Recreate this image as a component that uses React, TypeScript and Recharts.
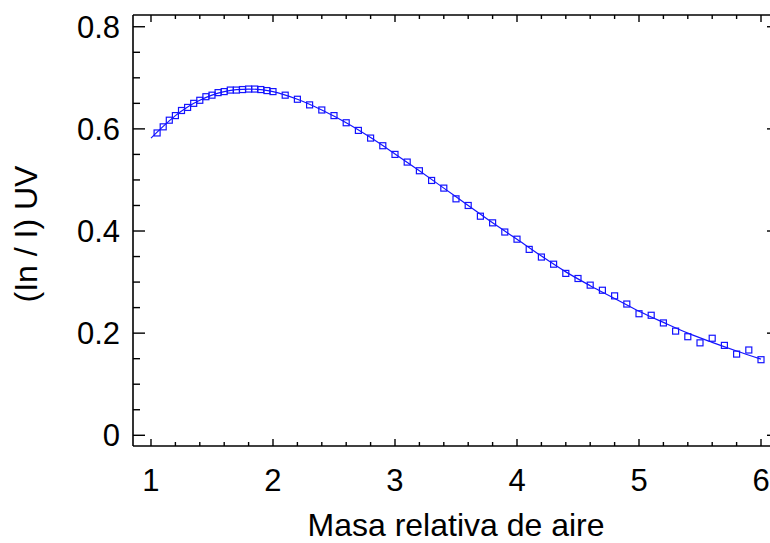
import React from 'react';
import { ComposedChart, XAxis, YAxis, Scatter, Line, Label } from 'recharts';

// Measured air mass values and the UV ratio (In / I) at each one
const airMass = [
  1.05, 1.1, 1.15, 1.2, 1.25, 1.3, 1.35, 1.4, 1.45, 1.5,
  1.55, 1.6, 1.65, 1.7, 1.75, 1.8, 1.85, 1.9, 1.95, 2.0,
  2.1, 2.2, 2.3, 2.4, 2.5, 2.6, 2.7, 2.8, 2.9, 3.0,
  3.1, 3.2, 3.3, 3.4, 3.5, 3.6, 3.7, 3.8, 3.9, 4.0,
  4.1, 4.2, 4.3, 4.4, 4.5, 4.6, 4.7, 4.8, 4.9, 5.0,
  5.1, 5.2, 5.3, 5.4, 5.5, 5.6, 5.7, 5.8, 5.9, 6.0,
];
const uvRatio = [
  0.592, 0.604, 0.617, 0.626, 0.636, 0.642, 0.65, 0.656, 0.663, 0.666,
  0.671, 0.673, 0.676, 0.676, 0.677, 0.678, 0.678, 0.677, 0.675, 0.673,
  0.666, 0.658, 0.647, 0.637, 0.626, 0.612, 0.597, 0.582, 0.567, 0.55,
  0.535, 0.518, 0.499, 0.484, 0.463, 0.45, 0.429, 0.416, 0.398, 0.384,
  0.364, 0.349, 0.335, 0.317, 0.307, 0.294, 0.284, 0.273, 0.257, 0.238,
  0.235, 0.22, 0.204, 0.193, 0.181, 0.19, 0.176, 0.159, 0.167, 0.148,
];

// Fitted curve through the measurements
const fitMass = [
  1.0, 1.1, 1.2, 1.3, 1.4, 1.5, 1.6, 1.7, 1.8, 1.9, 2.0,
  2.2, 2.4, 2.6, 2.8, 3.0, 3.2, 3.4, 3.6, 3.8, 4.0,
  4.2, 4.4, 4.6, 4.8, 5.0, 5.2, 5.4, 5.6, 5.8, 6.0,
];
const fitRatio = [
  0.582, 0.605, 0.626, 0.643, 0.656, 0.666, 0.673, 0.677, 0.678, 0.677, 0.673,
  0.658, 0.637, 0.612, 0.583, 0.551, 0.518, 0.484, 0.45, 0.416, 0.384,
  0.351, 0.32, 0.293, 0.268, 0.243, 0.221, 0.2, 0.182, 0.165, 0.149,
];

const xTickLabels = ['1', '2', '3', '4', '5', '6'];
const yTickLabels = ['0', '0.2', '0.4', '0.6', '0.8'];

const measured = airMass.map((x, i) => ({ x, y: uvRatio[i] }));
const fitted = fitMass.map((x, i) => ({ x, y: fitRatio[i] }));

// Major ticks every unit / 0.2, minor ticks every 0.2 / 0.05
const xTicks = Array.from({ length: 26 }, (_, i) => Math.round((1 + i * 0.2) * 100) / 100);
const yTicks = Array.from({ length: 17 }, (_, i) => Math.round(i * 5) / 100);

const FONT = '"Liberation Sans", Arial, Helvetica, sans-serif';
const BLUE = '#1414ff';

const isMajorX = (v: number) => Math.abs(v - Math.round(v)) < 1e-6;
const isMajorY = (v: number) => Math.abs(v * 5 - Math.round(v * 5)) < 1e-6;

type Side = 'bottom' | 'top' | 'left' | 'right';

const makeTick = (side: Side) => (props: any) => {
  const { x, y, payload } = props;
  const v = payload.value as number;
  const horizontal = side === 'bottom' || side === 'top';
  const major = horizontal ? isMajorX(v) : isMajorY(v);
  const len = horizontal ? (major ? 7 : 4) : (major ? 12 : 7);
  let x2 = x;
  let y2 = y;
  if (side === 'bottom') y2 = y - len;
  if (side === 'top') y2 = y + len;
  if (side === 'left') x2 = x + len;
  if (side === 'right') x2 = x - len;
  let text: React.ReactNode = null;
  if (major && side === 'bottom') {
    text = (
      <text x={x} y={y + 45} textAnchor="middle" fontFamily={FONT} fontSize={31} fill="#000">
        {xTickLabels[Math.round(v) - 1]}
      </text>
    );
  }
  if (major && side === 'left') {
    text = (
      <text x={x - 13} y={y} dy="0.36em" textAnchor="end" fontFamily={FONT} fontSize={31} fill="#000">
        {yTickLabels[Math.round(v * 5)]}
      </text>
    );
  }
  return (
    <g>
      <line x1={x} y1={y} x2={x2} y2={y2} stroke="#000" strokeWidth={1.4} />
      {text}
    </g>
  );
};

const SquareMarker = (props: any) => {
  const { cx, cy } = props;
  if (cx == null || cy == null) return <g />;
  return (
    <rect x={cx - 3} y={cy - 3} width={6} height={6} fill="none" stroke={BLUE} strokeWidth={1.2} />
  );
};

const axisLine = { stroke: '#000', strokeWidth: 1.6 };
const xDomain = [0.8525, 6.1475];
const yDomain = [-0.021, 0.823];

export default function App() {
  return (
    <div style={{ position: 'absolute', left: 0, top: 0, width: 770, height: 543, overflow: 'hidden', background: '#fff' }}>
      <ComposedChart
        width={782}
        height={543}
        margin={{ top: 14, right: 2, bottom: 96, left: 132 }}
      >
        <XAxis
          xAxisId="b"
          type="number"
          dataKey="x"
          orientation="bottom"
          domain={xDomain}
          allowDataOverflow
          ticks={xTicks}
          interval={0}
          height={1}
          tickSize={0}
          tickMargin={0}
          tickLine={false}
          axisLine={axisLine}
          tick={makeTick('bottom')}
        >
          <Label
            content={(p: any) => {
              const vb = p.viewBox || { x: 133, y: 446, width: 646, height: 1 };
              return (
                <text
                  x={vb.x + vb.width / 2}
                  y={vb.y + 90}
                  textAnchor="middle"
                  fontFamily={FONT}
                  fontSize={32}
                  fill="#000"
                >
                  Masa relativa de aire
                </text>
              );
            }}
          />
        </XAxis>
        <XAxis
          xAxisId="t"
          type="number"
          dataKey="x"
          orientation="top"
          domain={xDomain}
          allowDataOverflow
          ticks={xTicks}
          interval={0}
          height={1}
          tickSize={0}
          tickMargin={0}
          tickLine={false}
          axisLine={axisLine}
          tick={makeTick('top')}
        />
        <YAxis
          yAxisId="l"
          type="number"
          orientation="left"
          domain={yDomain}
          allowDataOverflow
          ticks={yTicks}
          interval={0}
          width={1}
          tickSize={0}
          tickMargin={0}
          tickLine={false}
          axisLine={axisLine}
          tick={makeTick('left')}
        >
          <Label
            content={(p: any) => {
              const vb = p.viewBox || { x: 132, y: 15, width: 1, height: 431 };
              const cx = vb.x + vb.width - 96;
              const cy = vb.y + vb.height / 2 + 3.5;
              return (
                <text
                  x={cx}
                  y={cy}
                  transform={`rotate(-90, ${cx}, ${cy})`}
                  textAnchor="middle"
                  fontFamily={FONT}
                  fontSize={32}
                  fill="#000"
                >
                  (In / I) UV
                </text>
              );
            }}
          />
        </YAxis>
        <YAxis
          yAxisId="r"
          type="number"
          orientation="right"
          domain={yDomain}
          allowDataOverflow
          ticks={yTicks}
          interval={0}
          width={1}
          tickSize={0}
          tickMargin={0}
          tickLine={false}
          axisLine={axisLine}
          tick={makeTick('right')}
        />
        <Line
          xAxisId="b"
          yAxisId="l"
          data={fitted}
          dataKey="y"
          type="monotone"
          stroke={BLUE}
          strokeWidth={1.2}
          dot={false}
          activeDot={false}
          isAnimationActive={false}
        />
        <Scatter
          xAxisId="b"
          yAxisId="l"
          data={measured}
          dataKey="y"
          shape={SquareMarker}
          isAnimationActive={false}
        />
      </ComposedChart>
    </div>
  );
}
